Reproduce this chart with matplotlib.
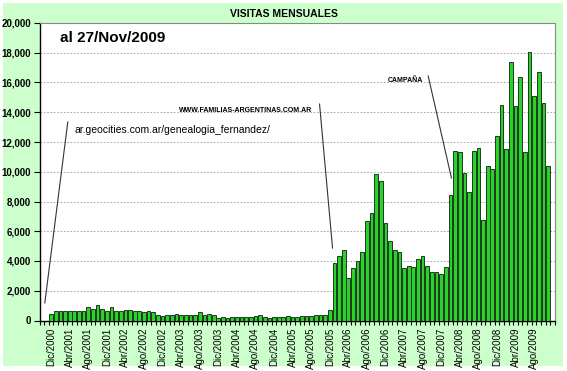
import numpy as np
import matplotlib.pyplot as plt
from matplotlib.patches import Rectangle

plt.rcParams['font.family'] = ['Liberation Sans', 'DejaVu Sans']

# monthly visits, Dec 2000 .. Nov 2009
visitas = [450,
           620, 620, 620, 620, 620, 620, 620, 900, 800, 1050, 780, 620,
           900, 650, 650, 700, 700, 650, 620, 580, 620, 550, 400, 330,
           380, 350, 420, 380, 350, 400, 380, 550, 400, 420, 400, 180,
           230, 180, 240, 240, 240, 240, 250, 300, 340, 250, 200, 250,
           250, 250, 280, 250, 250, 330, 270, 300, 340, 350, 350, 720,
           3850, 4320, 4740, 2860, 3530, 3980, 4590, 6690, 7200, 9820, 9400, 6530,
           5320, 4740, 4590, 3510, 3650, 3580, 4140, 4320, 3690, 3280, 3280, 3110,
           3590, 8430, 11390, 11320, 9910, 8630, 11390, 11590, 6770, 10400, 10180, 12420,
           14480, 11520, 17380, 14420, 16370, 11320, 18050, 15090, 16680, 14620, 10400]

meses = ['Ene', 'Feb', 'Mar', 'Abr', 'May', 'Jun', 'Jul', 'Ago', 'Sep', 'Oct', 'Nov', 'Dic']
etiquetas = []
for i in range(len(visitas)):
    m = (11 + i) % 12
    a = 2000 + (11 + i) // 12
    etiquetas.append(meses[m] + '/' + str(a))

x = np.arange(len(visitas))

fig = plt.figure(figsize=(5.67, 3.71), dpi=100)
fig.patch.set_facecolor('white')
fig.patches.append(Rectangle((3/567, 5/371), 560/567, 363/371, transform=fig.transFigure,
                             facecolor='#ccffcc', edgecolor='none', zorder=-10))

ax = fig.add_axes([39.5/567, 1 - 320.5/371, 515.5/567, 297.5/371])
ax.bar(x, visitas, width=0.8, color='#2bd12b', edgecolor='#1d3a1d', linewidth=0.7, zorder=3)

ax.set_xlim(-2.5, 108.5)
ax.set_ylim(0, 20000)
ax.set_yticks(np.arange(0, 20001, 2000))
ax.set_yticklabels(['{:,}'.format(v) for v in range(0, 20001, 2000)], fontweight='bold', fontsize=7)
ax.grid(axis='y', linestyle=(0, (2, 2)), color='#999999', linewidth=0.6, zorder=1)

ax.set_xticks(x[::4])
ax.set_xticklabels(etiquetas[::4], rotation=90, fontsize=7)
ax.tick_params(axis='x', length=0, pad=5)
ax.set_xticks(np.arange(-2.5, 108.6, 1), minor=True)
ax.tick_params(axis='x', which='minor', length=3, width=0.8, direction='out')
ax.tick_params(axis='y', length=4, width=0.8, pad=2)

for s in ['left', 'bottom']:
    ax.spines[s].set_color('black')
    ax.spines[s].set_linewidth(1)
for s in ['top', 'right']:
    ax.spines[s].set_color('#888888')
    ax.spines[s].set_linewidth(0.8)

fig.text(284/567, 1 - 14/371, 'VISITAS MENSUALES', ha='center', va='center',
         fontsize=7.5, fontweight='bold')
ax.text((60 - 39.5) / 515.5, 1 - (38 - 23) / 297.5, 'al 27/Nov/2009',
        transform=ax.transAxes, ha='left', va='center', fontsize=11, fontweight='bold')

ax.plot([-1.36, 3.59], [1180, 13340], color='#333333', linewidth=0.8, zorder=4)
ax.text(5.1, 12800, 'ar.geocities.com.ar/genealogia_fernandez/', ha='left', va='center',
        fontsize=7.5, zorder=5)

ax.plot([57.8, 60.6], [14550, 4870], color='#333333', linewidth=0.8, zorder=4)
ax.text(56.3, 14150, 'WWW.FAMILIAS-ARGENTINAS.COM.AR', ha='right', va='center',
        fontsize=5, fontweight='bold', zorder=5)

ax.plot([81.2, 86.2], [16430, 9580], color='#333333', linewidth=0.8, zorder=4)
ax.text(72.4, 16160, 'CAMPAÑA', ha='left', va='center', fontsize=5, fontweight='bold', zorder=5)

fig.savefig('out.png', dpi=100, facecolor=fig.get_facecolor())
